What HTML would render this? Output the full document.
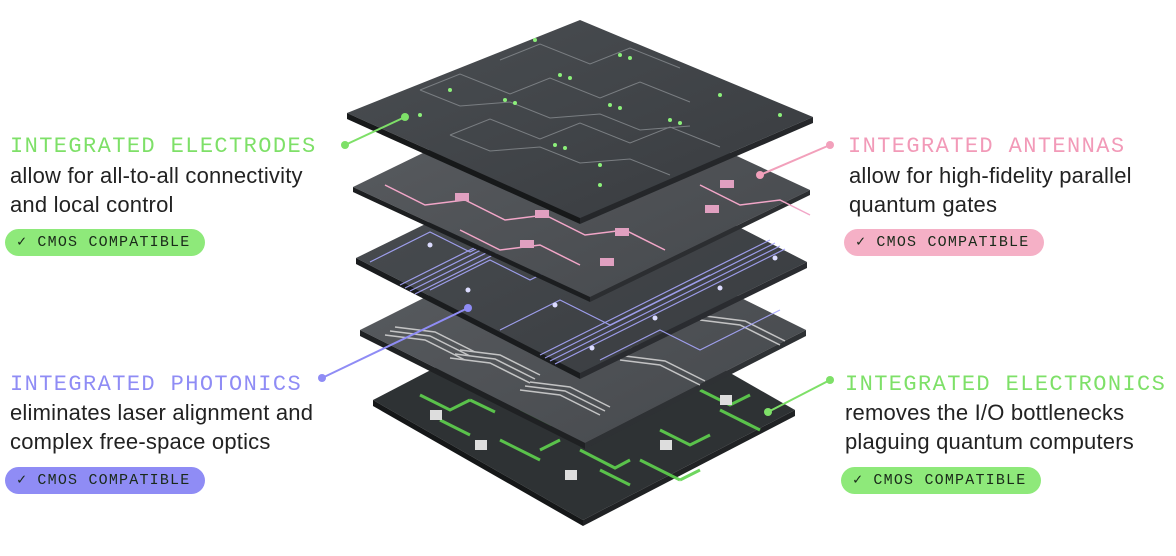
<!DOCTYPE html>
<html><head><meta charset="utf-8"><style>
*{margin:0;padding:0;box-sizing:border-box}
body{width:1176px;height:556px;background:#fff;position:relative;overflow:hidden;font-family:"Liberation Sans",sans-serif}
.h{position:absolute;font-family:"Liberation Mono",monospace;font-size:22px;letter-spacing:1.4px;line-height:26px;white-space:nowrap}
.b{position:absolute;font-size:22px;letter-spacing:0.2px;line-height:29px;color:#222;white-space:nowrap}
.p{position:absolute;width:200px;height:27px;border-radius:14px;font-family:"Liberation Mono",monospace;font-size:15px;letter-spacing:1.2px;line-height:27px;color:#1a2a1a;padding-left:12px;white-space:nowrap}
svg{position:absolute;left:0;top:0}
</style></head><body>
<svg width="1176" height="556" viewBox="0 0 1176 556">
<defs>
<linearGradient id="g1" x1="0" y1="0" x2="1" y2="1"><stop offset="0" stop-color="#4a4e52"/><stop offset="1" stop-color="#383b3f"/></linearGradient>
<linearGradient id="g2" x1="0" y1="0" x2="1" y2="1"><stop offset="0" stop-color="#5a5d61"/><stop offset="1" stop-color="#45484c"/></linearGradient>
</defs>
<!-- layer 5 green -->
<polygon points="373,400 585,290 795,410 583,520" fill="#2e3234"/>
<polygon points="373,400 583,520 583,526 373,406" fill="#151718"/>
<polygon points="583,520 795,410 795,416 583,526" fill="#202224"/>
<g stroke="#5fd24e" stroke-width="3" fill="none" opacity=".9">
<path d="M420,395 l30,15 l20,-10 M440,420 l30,15 M470,400 l25,12"/>
<path d="M520,410 l30,15 l20,-10 M500,440 l40,20 M540,450 l20,-10"/>
<path d="M580,450 l35,18 l15,-8 M600,470 l30,15"/>
<path d="M660,430 l30,15 l20,-10 M640,460 l40,20"/>
<path d="M700,390 l30,15 l20,-10 M720,410 l30,15"/>
<path d="M620,330 l30,15 M580,360 l40,20 M660,360 l25,12"/>
<path d="M740,420 l20,10 M680,480 l20,-10"/>
</g>
<g fill="#ddd"><rect x="430" y="410" width="12" height="10"/><rect x="475" y="440" width="12" height="10"/><rect x="565" y="470" width="12" height="10"/><rect x="660" y="440" width="12" height="10"/><rect x="720" y="395" width="12" height="10"/></g>
<!-- layer 4 gray -->
<polygon points="360,330 581,219 806,330 585,443" fill="url(#g2)"/>
<polygon points="360,330 585,443 585,449 360,336" fill="#1f2123"/>
<polygon points="585,443 806,330 806,336 585,449" fill="#2e3134"/>
<g stroke="#d8d8d8" stroke-width="1.5" fill="none" opacity=".85">
<path d="M385,335 l40,5 l40,20 M390,331 l40,5 l40,20 M395,327 l40,5 l40,20"/>
<path d="M450,358 l40,5 l40,20 M455,354 l40,5 l40,20 M460,350 l40,5 l40,20"/>
<path d="M520,390 l40,5 l40,20 M525,386 l40,5 l40,20 M530,382 l40,5 l40,20"/>
<path d="M555,325 l40,5 l40,20 M560,321 l40,5 l40,20"/>
<path d="M620,360 l40,5 l40,20 M625,356 l40,5 l40,20"/>
<path d="M700,320 l40,5 l40,20 M705,316 l40,5 l40,20"/>
</g>
<!-- layer 3 blue -->
<polygon points="356,258 583,147 807,262 580,373" fill="url(#g1)"/>
<polygon points="356,258 580,373 580,379 356,264" fill="#1a1c1e"/>
<polygon points="580,373 807,262 807,268 580,379" fill="#2a2c30"/>
<g stroke="#a9a8ff" stroke-width="1.2" fill="none" opacity=".9">
<path d="M400,285 l160,-80 M405,288 l160,-80 M410,291 l160,-80 M415,294 l160,-80"/>
<path d="M540,355 l230,-115 M545,358 l230,-115 M550,361 l230,-115 M555,364 l230,-115"/>
<path d="M370,262 l60,-30 l40,20 l100,-50 M430,290 l60,-30 l40,20 l80,-40 M500,330 l60,-30 l50,25 l100,-50 M600,360 l60,-30 l40,20 l80,-40"/>
</g>
<g fill="#dcdcff"><circle cx="430" cy="245" r="2.5"/><circle cx="468" cy="290" r="2.5"/><circle cx="555" cy="305" r="2.5"/><circle cx="592" cy="348" r="2.5"/><circle cx="655" cy="318" r="2.5"/><circle cx="720" cy="288" r="2.5"/><circle cx="775" cy="258" r="2.5"/></g>
<!-- layer 2 pink -->
<polygon points="353,187 573,80 810,190 590,297" fill="url(#g2)"/>
<polygon points="353,187 590,297 590,302 353,192" fill="#1c1e20"/>
<polygon points="590,297 810,190 810,195 590,302" fill="#2c2e31"/>
<g stroke="#f2a6c8" stroke-width="1.5" fill="none">
<path d="M385,185 l40,20 l40,-5 l40,20 l40,-5 l40,20 l40,-5 l40,20"/>
<path d="M460,230 l40,20 l40,-5 l40,20"/>
<path d="M700,185 l40,20 l40,-5 l30,15"/>
</g>
<g fill="#e0a0c0"><rect x="455" y="193" width="14" height="8"/><rect x="535" y="210" width="14" height="8"/><rect x="615" y="228" width="14" height="8"/><rect x="520" y="240" width="14" height="8"/><rect x="600" y="258" width="14" height="8"/><rect x="705" y="205" width="14" height="8"/><rect x="720" y="180" width="14" height="8"/></g>
<!-- layer 1 top -->
<polygon points="347,113 580,20 813,117 580,218" fill="url(#g1)"/>
<polygon points="347,113 580,218 580,224 347,119" fill="#17191a"/>
<polygon points="580,218 813,117 813,123 580,224" fill="#25272a"/>
<g stroke="#7a7e82" stroke-width="1" fill="none">
<path d="M420,90 l40,-16 l50,20 l40,-16 l50,20 l40,-16 l50,20 M420,90 l40,16 l50,-4 l40,16 l50,-4 l40,16 l50,-4"/>
<path d="M450,135 l40,-16 l50,20 l40,-16 l50,20 l40,-16 l50,20 M450,135 l40,16 l50,-4 l40,16 l50,-4 l40,16"/>
<path d="M500,60 l40,-16 l50,20 l40,-16 l50,20"/>
</g>
<g fill="#8cf07a"><circle cx="420" cy="115" r="2"/><circle cx="450" cy="90" r="2"/><circle cx="505" cy="100" r="2"/><circle cx="515" cy="103" r="2"/><circle cx="560" cy="75" r="2"/><circle cx="570" cy="78" r="2"/><circle cx="620" cy="55" r="2"/><circle cx="630" cy="58" r="2"/><circle cx="610" cy="105" r="2"/><circle cx="620" cy="108" r="2"/><circle cx="555" cy="145" r="2"/><circle cx="565" cy="148" r="2"/><circle cx="670" cy="120" r="2"/><circle cx="680" cy="123" r="2"/><circle cx="720" cy="95" r="2"/><circle cx="780" cy="115" r="2"/><circle cx="600" cy="185" r="2"/><circle cx="600" cy="165" r="2"/><circle cx="535" cy="40" r="2"/></g>
<!-- connectors -->
<g stroke-width="2" fill="none">
<line x1="345" y1="145" x2="405" y2="117" stroke="#7ee068"/>
<line x1="830" y1="145" x2="760" y2="175" stroke="#f2a0bb"/>
<line x1="322" y1="378" x2="468" y2="308" stroke="#8f8cf5"/>
<line x1="830" y1="380" x2="768" y2="412" stroke="#7ee068"/>
</g>
<circle cx="345" cy="145" r="4" fill="#7ee068"/><circle cx="405" cy="117" r="4" fill="#7ee068"/>
<circle cx="830" cy="145" r="4" fill="#f2a0bb"/><circle cx="760" cy="175" r="4" fill="#f2a0bb"/>
<circle cx="322" cy="378" r="4" fill="#8f8cf5"/><circle cx="468" cy="308" r="4" fill="#8f8cf5"/>
<circle cx="830" cy="380" r="4" fill="#7ee068"/><circle cx="768" cy="412" r="4" fill="#7ee068"/>
</svg>

<div class="h" style="left:10px;top:134px;color:#7ee068">INTEGRATED ELECTRODES</div>
<div class="b" style="left:10px;top:161px">allow for all-to-all connectivity<br>and local control</div>
<div class="p" style="left:5px;top:229px;background:#8ee97a">✓ CMOS COMPATIBLE</div>

<div class="h" style="left:848px;top:134px;color:#f29ab8">INTEGRATED ANTENNAS</div>
<div class="b" style="left:849px;top:161px">allow for high-fidelity parallel<br>quantum gates</div>
<div class="p" style="left:844px;top:229px;background:#f5b0c6">✓ CMOS COMPATIBLE</div>

<div class="h" style="left:10px;top:372px;color:#8f8cf5">INTEGRATED PHOTONICS</div>
<div class="b" style="left:10px;top:398px">eliminates laser alignment and<br>complex free-space optics</div>
<div class="p" style="left:5px;top:467px;background:#8f8cf5">✓ CMOS COMPATIBLE</div>

<div class="h" style="left:845px;top:372px;color:#7ee068">INTEGRATED ELECTRONICS</div>
<div class="b" style="left:845px;top:398px">removes the I/O bottlenecks<br>plaguing quantum computers</div>
<div class="p" style="left:841px;top:467px;background:#8ee97a">✓ CMOS COMPATIBLE</div>
</body></html>
